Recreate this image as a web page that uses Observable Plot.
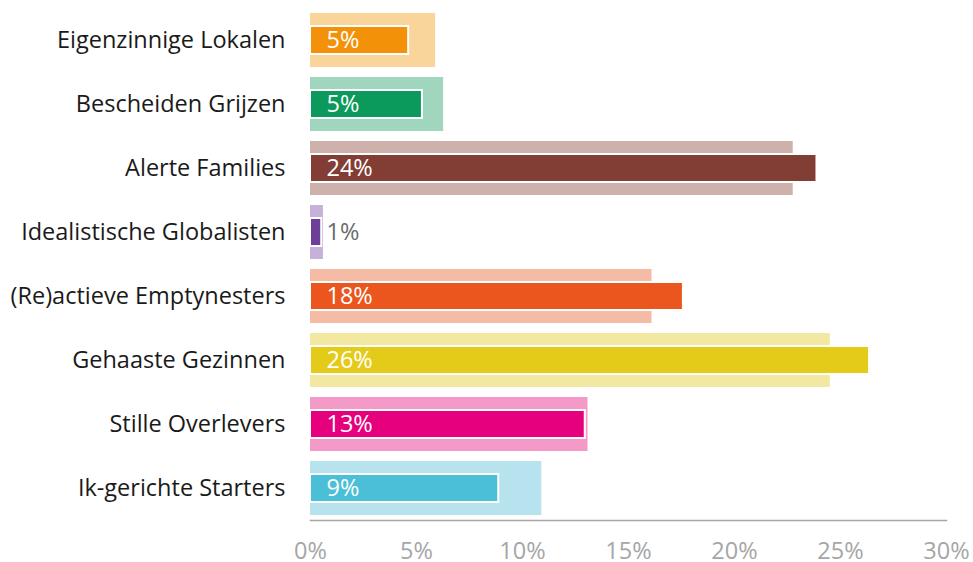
<!DOCTYPE html>
<html>
<head>
<meta charset="utf-8">
<script src="https://cdn.jsdelivr.net/npm/d3@7"></script>
<script src="https://cdn.jsdelivr.net/npm/@observablehq/plot@0.6"></script>
<style>
  html, body { margin: 0; padding: 0; background: #ffffff; }
  #chart { width: 973px; height: 562px; }
</style>
</head>
<body>
<div id="chart"></div>
<script>
const categories = [
  "Eigenzinnige Lokalen",
  "Bescheiden Grijzen",
  "Alerte Families",
  "Idealistische Globalisten",
  "(Re)actieve Emptynesters",
  "Gehaaste Gezinnen",
  "Stille Overlevers",
  "Ik-gerichte Starters"
];
const backgroundValues = [5.9, 6.28, 22.77, 0.61, 16.11, 24.52, 13.09, 10.91];
const foregroundValues = [4.63, 5.28, 23.89, 0.53, 17.59, 26.37, 12.96, 8.88];
const valueLabels = ["5%", "5%", "24%", "1%", "18%", "26%", "13%", "9%"];
const backgroundColors = ["#f9d49b", "#9fd6bd", "#cfb1ab", "#c6b1d8", "#f6bba4", "#f3e8a1", "#f49ac8", "#b7e3ee"];
const foregroundColors = ["#f39208", "#0b9a5b", "#823d35", "#6d3f96", "#ea561d", "#e4cb19", "#e6007e", "#4bbfd8"];
const xTicks = [0, 5, 10, 15, 20, 25, 30];

const data = categories.map((c, i) => ({
  cat: c,
  bg: backgroundValues[i],
  fg: foregroundValues[i],
  label: valueLabels[i],
  bgColor: backgroundColors[i],
  fgColor: foregroundColors[i],
  labelColor: foregroundValues[i] < 2 ? "#6b6b6b" : "#ffffff"
}));

const chart = Plot.plot({
  width: 973,
  height: 562,
  marginLeft: 310,
  marginRight: 27,
  marginTop: 8,
  marginBottom: 42,
  style: { fontFamily: "'Open Sans', sans-serif", background: "#ffffff" },
  x: { domain: [0, 30] },
  y: { domain: categories, padding: 0 },
  color: { type: "identity" },
  marks: [
    Plot.barX(data, { x: "bg", y: "cat", fill: "bgColor", insetTop: 5, insetBottom: 5 }),
    Plot.barX(data, { x: "fg", y: "cat", fill: "fgColor", stroke: "#ffffff", strokeWidth: 2, insetTop: 18, insetBottom: 18 }),
    Plot.text(data, { x: 0, y: "cat", text: "label", fill: "labelColor", textAnchor: "start", dx: 16, fontSize: 23.5 }),
    Plot.axisY({ tickSize: 0, tickPadding: 25, fontSize: 23.5, color: "#1a1a1a", label: null }),
    Plot.axisX({ ticks: xTicks, tickFormat: d => d + "%", tickSize: 0, tickPadding: 22, fontSize: 23.5, color: "#a6a6a6", label: null }),
    Plot.frame({ anchor: "bottom", stroke: "#a6a6a6", strokeWidth: 1.5 })
  ]
});
document.getElementById("chart").appendChild(chart);
</script>
</body>
</html>
